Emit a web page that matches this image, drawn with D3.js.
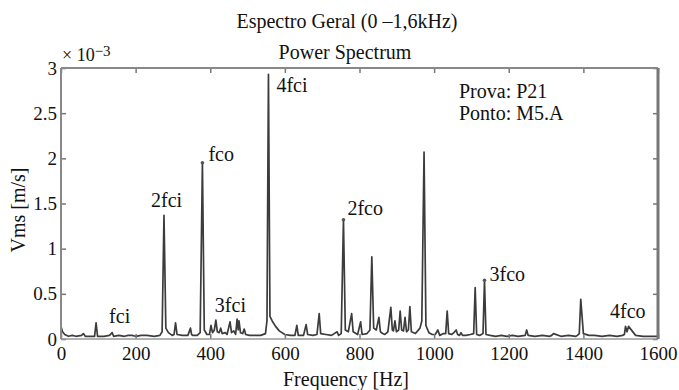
<!DOCTYPE html>
<html>
<head>
<meta charset="utf-8">
<script src="https://cdn.jsdelivr.net/npm/d3@7"></script>
<style>
  body { margin: 0; background: #fff; }
  text { font-family: "Liberation Serif", "DejaVu Serif", serif; fill: #111; }
</style>
</head>
<body>
<div id="chart"></div>
<script>
// spectrum: frequency [Hz] and Vrms [x 1e-3 m/s]
const freq = [0, 4, 10, 20, 30, 40, 55, 60, 65, 80, 90, 94, 98, 115, 130, 137, 141, 155, 170, 180, 190, 200, 215, 230, 250, 265,
  271, 276, 281, 288, 298, 303, 307, 311, 325, 340, 347, 350, 353, 365, 373, 379, 384, 391,
  398, 402, 406, 411, 415, 419, 424, 428, 432, 440, 445, 453, 457, 463, 468, 472, 475, 477, 481, 487, 491, 495,
  505, 520, 535, 548, 552, 556, 560, 566, 575, 585, 600, 615, 627, 632, 636, 650, 657, 661, 675, 686, 692, 696,
  710, 725, 740, 744, 751, 757, 762, 770, 779, 783, 795, 803, 807, 820, 828, 833, 838, 845, 852, 856, 862, 868,
  876, 884, 888, 891, 895, 899, 905, 909, 913, 918, 922, 926, 931, 935, 939, 950, 962, 967, 973, 978, 986, 995,
  1003, 1010, 1015, 1025, 1031, 1035, 1039, 1047, 1053, 1059, 1063, 1068, 1072, 1076, 1085, 1097, 1106, 1110, 1114,
  1122, 1131, 1135, 1139, 1150, 1165, 1180, 1195, 1210, 1225, 1244, 1248, 1252, 1270, 1290, 1310, 1315, 1320, 1340,
  1360, 1380, 1384, 1389, 1393, 1400, 1415, 1430, 1450, 1470, 1490, 1505, 1510, 1513, 1517, 1521, 1540, 1560, 1580, 1600]
const vrms = [0.14, 0.08, 0.05, 0.03, 0.04, 0.03, 0.04, 0.06, 0.03, 0.03, 0.03, 0.18, 0.03, 0.03, 0.04, 0.07, 0.03, 0.04, 0.03, 0.04, 0.04, 0.03, 0.04, 0.04, 0.03, 0.04,
  0.08, 1.37, 0.12, 0.07, 0.04, 0.05, 0.18, 0.05, 0.04, 0.04, 0.12, 0.05, 0.04, 0.04, 0.07, 1.95, 0.1, 0.05,
  0.05, 0.15, 0.07, 0.1, 0.21, 0.08, 0.07, 0.12, 0.06, 0.07, 0.05, 0.19, 0.07, 0.09, 0.05, 0.22, 0.1, 0.2, 0.07, 0.06, 0.11, 0.05,
  0.04, 0.04, 0.04, 0.06, 0.2, 2.93, 0.25, 0.2, 0.14, 0.09, 0.05, 0.04, 0.04, 0.15, 0.04, 0.04, 0.16, 0.05, 0.04, 0.05, 0.28, 0.06,
  0.05, 0.04, 0.08, 0.04, 0.06, 1.32, 0.1, 0.08, 0.28, 0.08, 0.05, 0.19, 0.05, 0.06, 0.1, 0.91, 0.12, 0.1, 0.24, 0.08, 0.06, 0.05,
  0.08, 0.35, 0.1, 0.09, 0.2, 0.08, 0.1, 0.31, 0.1, 0.09, 0.24, 0.08, 0.1, 0.36, 0.08, 0.06, 0.12, 0.2, 2.07, 0.15, 0.07, 0.05,
  0.05, 0.1, 0.04, 0.06, 0.06, 0.31, 0.06, 0.05, 0.07, 0.1, 0.05, 0.04, 0.07, 0.04, 0.04, 0.05, 0.06, 0.57, 0.05,
  0.04, 0.06, 0.65, 0.05, 0.04, 0.03, 0.04, 0.03, 0.04, 0.03, 0.04, 0.1, 0.04, 0.03, 0.04, 0.03, 0.04, 0.06, 0.03, 0.04,
  0.03, 0.04, 0.06, 0.44, 0.06, 0.04, 0.04, 0.03, 0.04, 0.03, 0.04, 0.05, 0.14, 0.08, 0.14, 0.04, 0.03, 0.03, 0.03, 0.03]

const xTicks = [0, 200, 400, 600, 800, 1000, 1200, 1400, 1600]
const yTicks = [0, 0.5, 1, 1.5, 2, 2.5, 3]

// peak annotations, anchored at (Hz, value)
const peakLabels = ["fci", "2fci", "fco", "3fci", "4fci", "2fco", "3fco", "4fco"]
const peakFreq   = [137, 276, 379, 415, 556, 757, 1135, 1517]
const peakVal    = [0.07, 1.37, 1.95, 0.21, 2.93, 1.32, 0.65, 0.14]

const w = 679, h = 390
const margin = {left: 61, right: 21, top: 68, bottom: 51}
const font = '"Liberation Serif", "DejaVu Serif", serif'

const svg = d3.select("#chart").append("svg")
    .attr("width", w)
    .attr("height", h)

const x = d3.scaleLinear().domain([0, 1600]).range([margin.left, w - margin.right])
const y = d3.scaleLinear().domain([0, 3]).range([h - margin.bottom, margin.top])

// spectrum line
const pts = freq.map((f, i) => [f, vrms[i]])
svg.append("path")
    .datum(pts)
    .attr("d", d3.line().x(d => x(d[0])).y(d => y(d[1])))
    .attr("fill", "none")
    .attr("stroke", "#3c3c3c")
    .attr("stroke-width", 1.7)
    .attr("stroke-linejoin", "round")

// axes, ticks pointing inwards on all four sides
function styleAxis(g) {
    g.select(".domain").remove()
    g.selectAll("line").attr("stroke", "#777").attr("stroke-width", 1.5)
    g.selectAll("text").style("font-family", font).style("font-size", "19px").attr("fill", "#111")
}

svg.append("g")
    .attr("transform", `translate(0, ${h - margin.bottom})`)
    .call(d3.axisBottom(x).tickValues(xTicks).tickSize(-5).tickPadding(8).tickFormat(d3.format("d")))
    .call(styleAxis)

svg.append("g")
    .attr("transform", `translate(0, ${margin.top})`)
    .call(d3.axisTop(x).tickValues(xTicks).tickSize(-5).tickFormat(""))
    .call(styleAxis)

svg.append("g")
    .attr("transform", `translate(${margin.left}, 0)`)
    .call(d3.axisLeft(y).tickValues(yTicks).tickSize(-5).tickPadding(4).tickFormat(d => d))
    .call(styleAxis)

svg.append("g")
    .attr("transform", `translate(${w - margin.right}, 0)`)
    .call(d3.axisRight(y).tickValues(yTicks).tickSize(-5).tickFormat(""))
    .call(styleAxis)

// frame
svg.append("line")
    .attr("x1", margin.left).attr("x2", w - margin.right)
    .attr("y1", margin.top).attr("y2", margin.top)
    .attr("stroke", "#888").attr("stroke-width", 2)
svg.append("line")
    .attr("x1", margin.left).attr("x2", w - margin.right)
    .attr("y1", h - margin.bottom).attr("y2", h - margin.bottom)
    .attr("stroke", "#999").attr("stroke-width", 1.5)
svg.append("line")
    .attr("x1", margin.left).attr("x2", margin.left)
    .attr("y1", margin.top).attr("y2", h - margin.bottom)
    .attr("stroke", "#888").attr("stroke-width", 2)
svg.append("line")
    .attr("x1", w - margin.right).attr("x2", w - margin.right)
    .attr("y1", margin.top).attr("y2", h - margin.bottom)
    .attr("stroke", "#777").attr("stroke-width", 3)

// peak labels, offset from the peak top in pixels
const labelOffsets = {
    "fci": [-3, -10], "2fci": [-13, -8], "fco": [6, -2], "3fci": [-1, -8],
    "4fci": [8, 18], "2fco": [4, -5], "3fco": [5, 1], "4fco": [-17, -8]
}
const dotted = ["fco", "2fco", "3fco"]

peakLabels.forEach((name, i) => {
    const off = labelOffsets[name]
    svg.append("text")
        .attr("x", x(peakFreq[i]) + off[0])
        .attr("y", y(peakVal[i]) + off[1])
        .style("font-size", "20px")
        .text(name)
    if (dotted.includes(name)) {
        svg.append("circle")
            .attr("cx", x(peakFreq[i]))
            .attr("cy", y(peakVal[i]))
            .attr("r", 1.8)
            .attr("fill", "#555")
    }
})

// test info
svg.append("text").attr("x", 459).attr("y", 98).style("font-size", "20px").text("Prova: P21")
svg.append("text").attr("x", 459).attr("y", 120).style("font-size", "20px").text("Ponto: M5.A")

// titles and axis labels
svg.append("text")
    .attr("x", 347).attr("y", 28)
    .attr("text-anchor", "middle")
    .style("font-size", "20px")
    .text("Espectro Geral (0 \u20131,6kHz)")

svg.append("text")
    .attr("x", 345).attr("y", 59)
    .attr("text-anchor", "middle")
    .style("font-size", "20px")
    .text("Power Spectrum")

const mult = svg.append("text").attr("x", 62).attr("y", 61).style("font-size", "18px")
mult.append("tspan").text("\u00d7 10")
mult.append("tspan").attr("dy", -5).style("font-size", "15px").text("\u22123")

svg.append("text")
    .attr("x", 346).attr("y", 386)
    .attr("text-anchor", "middle")
    .style("font-size", "20px")
    .text("Frequency [Hz]")

svg.append("text")
    .attr("transform", "translate(25, 210) rotate(-90)")
    .attr("text-anchor", "middle")
    .style("font-size", "20px")
    .text("Vms [m/s]")
</script>
</body>
</html>
